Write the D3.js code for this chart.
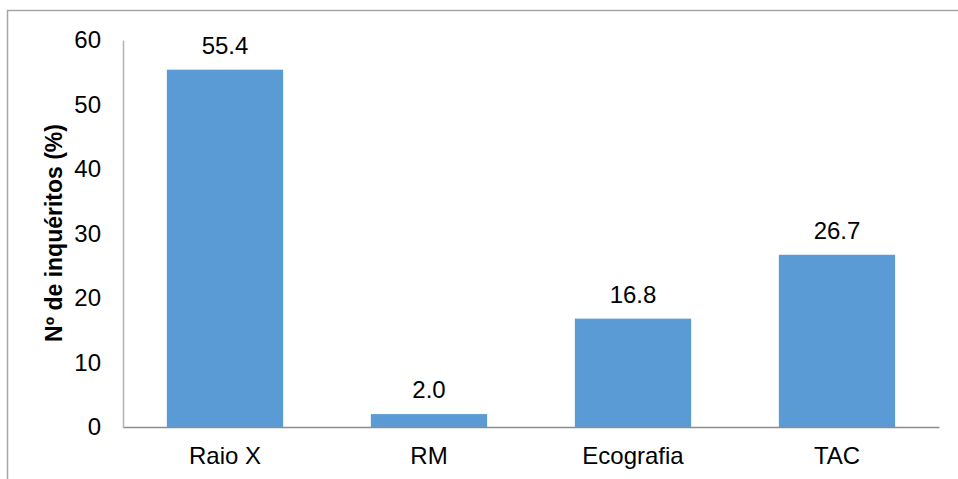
<!DOCTYPE html>
<html>
<head>
<meta charset="utf-8">
<script src="https://cdn.jsdelivr.net/npm/d3@7"></script>
<style>
  html, body { margin: 0; padding: 0; background: #fff; }
  svg { display: block; font-family: "Liberation Sans", Arial, sans-serif; }
</style>
</head>
<body>
<svg id="chart" width="958" height="479"></svg>
<script>
// Exam types and share of respondents (%)
const categories = ["Raio X", "RM", "Ecografia", "TAC"];
const values = [55.4, 2.0, 16.8, 26.7];
const yTicks = [0, 10, 20, 30, 40, 50, 60];
const yTitle = "Nº de inquéritos (%)";

const fontSize = 24;
const svg = d3.select("#chart");

// outer frame (left and top edges only)
svg.append("path")
  .attr("d", "M7.5,479 V10.5 H958")
  .attr("fill", "none")
  .attr("stroke", "#a6a6a6")
  .attr("stroke-width", 1.5);

const plot = { left: 123, right: 939, top: 40, bottom: 427 };

const x = d3.scaleBand()
  .domain(categories)
  .range([plot.left, plot.right])
  .paddingInner(0.43)
  .paddingOuter(0.215);

const y = d3.scaleLinear()
  .domain([0, 60])
  .range([plot.bottom, plot.top]);

// bars
svg.append("g").selectAll("rect")
  .data(categories)
  .join("rect")
  .attr("x", d => x(d))
  .attr("width", x.bandwidth())
  .attr("y", (d, i) => y(values[i]))
  .attr("height", (d, i) => y(0) - y(values[i]))
  .attr("fill", "#5b9bd5");

// value labels
svg.append("g").selectAll("text")
  .data(categories)
  .join("text")
  .attr("x", d => x(d) + x.bandwidth() / 2)
  .attr("y", (d, i) => y(values[i]) - 16)
  .attr("text-anchor", "middle")
  .attr("font-size", fontSize)
  .attr("fill", "#000")
  .text((d, i) => values[i].toFixed(1));

// y axis
const yAxis = svg.append("g")
  .attr("transform", `translate(${plot.left},0)`)
  .call(d3.axisLeft(y).tickValues(yTicks).tickSize(0).tickPadding(22));
yAxis.select(".domain").attr("stroke", "#b3b3b3").attr("stroke-width", 1.5);
yAxis.selectAll("text").attr("font-size", fontSize).attr("fill", "#000")
  .attr("font-family", "Liberation Sans, Arial, sans-serif");

// x axis
const xAxis = svg.append("g")
  .attr("transform", `translate(0,${plot.bottom})`)
  .call(d3.axisBottom(x).tickSize(0).tickPadding(20));
xAxis.select(".domain").attr("stroke", "#8c8c8c").attr("stroke-width", 1.5);
xAxis.selectAll("text").attr("font-size", fontSize).attr("fill", "#000")
  .attr("font-family", "Liberation Sans, Arial, sans-serif");

// y axis title
svg.append("text")
  .attr("transform", "translate(62,233) rotate(-90)")
  .attr("text-anchor", "middle")
  .attr("font-size", 23)
  .attr("font-weight", "bold")
  .attr("fill", "#000")
  .text(yTitle);
</script>
</body>
</html>
